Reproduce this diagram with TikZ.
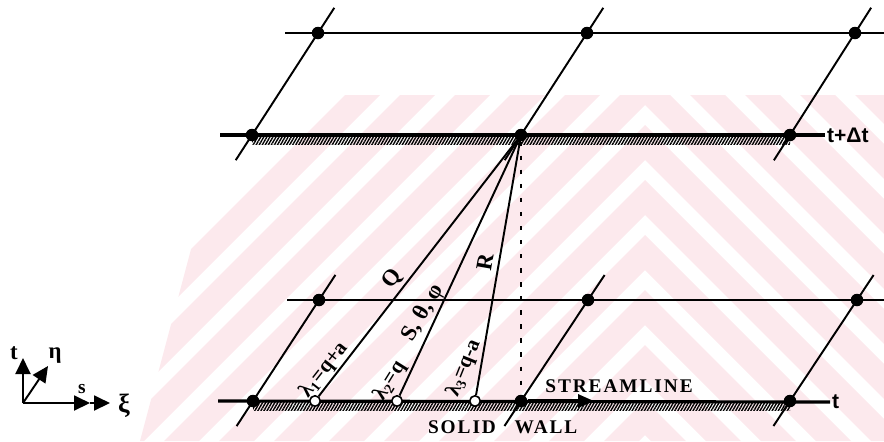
\documentclass[tikz,border=0pt]{standalone}
\usepackage{fontspec}
\setmainfont{Liberation Serif}
\newfontfamily\arialfont{Liberation Sans}
\usetikzlibrary{arrows.meta,patterns.meta,backgrounds}
\definecolor{wpink}{RGB}{252,233,237}

\begin{document}
\begin{tikzpicture}[x=0.02cm,y=-0.02cm,
    vertex/.style={circle,fill=black,minimum size=0.25cm,inner sep=0pt},
    hollow/.style={circle,draw,fill=white,line width=0.9pt,minimum size=0.21cm,inner sep=0pt},
    gridline/.style={line width=1.1pt,shorten <=-0.6cm,shorten >=-0.6cm},
    wall/.style={line width=1.8pt},
    fan/.style={line width=1.1pt},
    hatch/.style={pattern={Lines[angle=60,distance=1.5pt,line width=0.8pt]}},
    caps/.style={font=\fontsize{11}{13}\selectfont\bfseries\addfontfeatures{LetterSpace=10}},
    lab/.style={font=\fontsize{13}{15}\selectfont\bfseries,inner sep=1pt},
    lamlab/.style={font=\fontsize{12}{14}\selectfont\bfseries,inner sep=1pt},
    tlab/.style={font=\arialfont\fontsize{12}{14}\selectfont\bfseries,inner sep=1pt},
    axisarrow/.style={line width=1.1pt,-{Triangle[length=0.32cm,width=0.3cm]}}]
\useasboundingbox (0,0) rectangle (884,441);
\node[vertex] (b1) at (253,401) {};
\node[vertex] (b2) at (521,401) {};
\node[vertex] (b3) at (790,401) {};
\node[vertex] (m1) at (319,300) {};
\node[vertex] (m2) at (588,300) {};
\node[vertex] (m3) at (857,300) {};
\node[vertex] (h1) at (252,135) {};
\node[vertex] (h2) at (521,135) {};
\node[vertex] (h3) at (790,135) {};
\node[vertex] (u1) at (318,33) {};
\node[vertex] (u2) at (587,33) {};
\node[vertex] (u3) at (855,33) {};
\node[hollow] (c1) at (315,401) {};
\node[hollow] (c2) at (397,401) {};
\node[hollow] (c3) at (475,401) {};
\node[tlab,anchor=west] (tb) at (830,402) {t};
\node[tlab,anchor=west] (th) at (825,135) {t+Δt};
\coordinate (wl) at (218,401);
\coordinate (hl) at (220,135);
\coordinate (ml) at (287,300);
\coordinate (mr) at (884,300);
\coordinate (ul) at (285,33);
\coordinate (ur) at (884,33);
\coordinate (sa) at (594,401);
\begin{scope}[on background layer]
\begin{scope}
\clip (232,95) -- (884,95) -- (884,441) -- (140,441) -- cycle;
\foreach \D in {-205,-150,...,460}
  \fill[wpink] (-55,\D+700) -- (645,\D) -- (1345,\D+700) -- (1345,\D+735) -- (645,\D+35) -- (-55,\D+735) -- cycle;
\end{scope}
\fill[hatch] (b1.center) rectangle ([yshift=-0.18cm]b3.center);
\fill[hatch] (h1.center) rectangle ([yshift=-0.18cm]h3.center);
\draw[wall] (wl) -- (tb.west);
\draw[wall] (hl) -- (th.west);
\draw[line width=1.1pt] (ml) -- (mr);
\draw[line width=1.1pt] (ul) -- (ur);
\draw[gridline] (b1.center) -- (m1.center);
\draw[gridline] (b2.center) -- (m2.center);
\draw[gridline] (b3.center) -- (m3.center);
\draw[gridline] (h1.center) -- (u1.center);
\draw[gridline] (h2.center) -- (u2.center);
\draw[gridline] (h3.center) -- (u3.center);
\draw[fan] (h2.center) -- (c1);
\draw[fan] (h2.center) -- (c2);
\draw[fan] (h2.center) -- (c3);
\draw[line width=1.3pt,dash pattern=on 2.5pt off 5.5pt] (h2) -- (b2);
\draw[wall,-{Triangle[length=0.32cm,width=0.26cm]}] (b2) -- (sa);
\end{scope}
\node[lab,rotate=52] (lq) at (392,279) {Q};
\node[lab,rotate=60] (ls) at (423,313) {S, θ, φ};
\node[lab,rotate=80] (lr) at (485,262) {R};
\node[lamlab,rotate=52] (l1) at (324,370) {λ\textsubscript{1}=q+a};
\node[lamlab,rotate=58] (l2) at (390,381) {λ\textsubscript{2}=q};
\node[lamlab,rotate=68] (l3) at (464,368) {λ\textsubscript{3}=q-a};
\node[caps] (st) at (619,386) {STREAMLINE};
\node[caps] (so) at (462,427) {SOLID};
\node[caps] (wa) at (546,427) {WALL};
\coordinate (o) at (23,403);
\coordinate (ta) at (23,358);
\coordinate (ea) at (48,366);
\coordinate (xa) at (90,403);
\coordinate (xb) at (110,403);
\draw[axisarrow] (o) -- (ta);
\draw[axisarrow] (o) -- (ea);
\draw[axisarrow] (o) -- (xa);
\draw[axisarrow] (xa) -- (xb);
\node[lab] (tl) at (14,353) {t};
\node[lab] (el) at (55,356) {η};
\node[lab,font=\fontsize{11}{13}\selectfont\bfseries] (sl) at (82,389) {s};
\node[lab,font=\fontsize{15}{17}\selectfont\bfseries] (xl) at (124,406) {ξ};
\end{tikzpicture}
\end{document}
